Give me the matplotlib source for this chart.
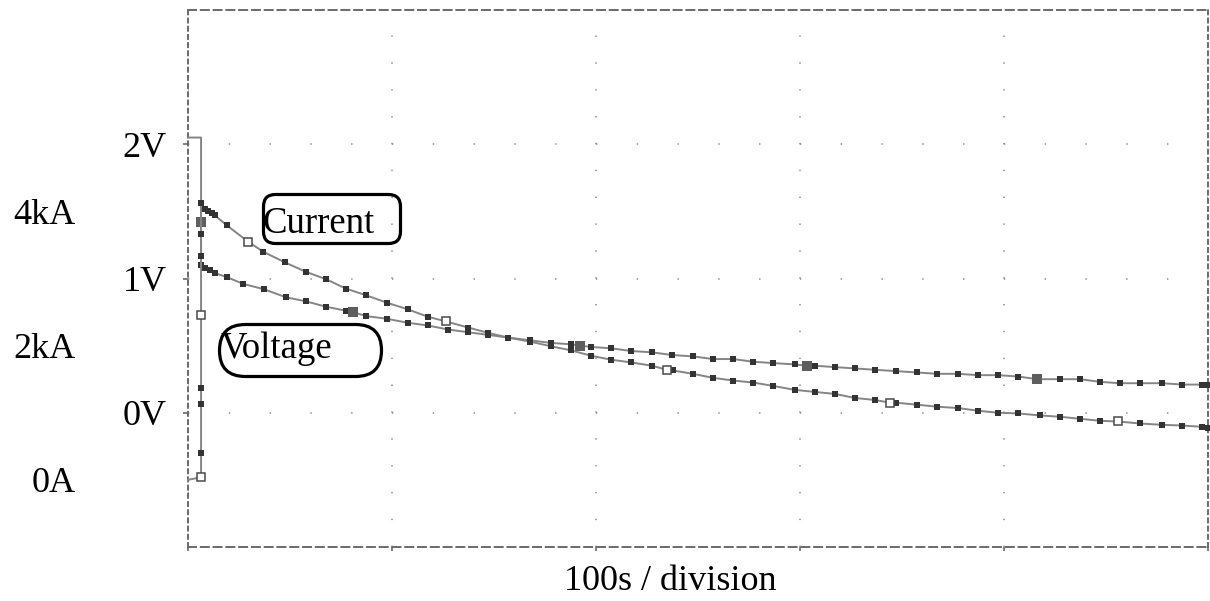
import matplotlib
matplotlib.use("Agg")
import matplotlib.pyplot as plt
from matplotlib.patches import FancyBboxPatch
from matplotlib.transforms import IdentityTransform

plt.rcParams['font.family'] = ['Liberation Serif', 'DejaVu Serif']
plt.rcParams['lines.scale_dashes'] = False

# time in seconds
t_volt = [0, 6.4, 6.4, 6.4, 8.3, 10.8, 13.2, 19.1, 27.0, 37.3, 48.0, 57.8, 67.6, 77.4, 80.9,
          87.3, 97.5, 107.8, 117.6, 127.5, 137.3, 147.1, 156.9, 167.6, 177.9, 187.7, 192.2,
          197.5, 207.4, 217.2, 227.5, 237.3, 247.5, 257.4, 267.2, 277.0, 286.8, 297.6, 303.4,
          307.4, 317.2, 327.0, 336.8, 347.1, 357.4, 367.2, 377.5, 387.3, 397.1, 406.9, 416.2,
          427.5, 437.3, 447.1, 456.9, 466.7, 477.5, 487.3, 497.1, 500]
volts = [2.05, 2.05, 1.42, 1.10, 1.08, 1.06, 1.04, 1.01, 0.96, 0.92, 0.86, 0.83, 0.79, 0.76, 0.75,
         0.72, 0.70, 0.67, 0.65, 0.62, 0.60, 0.58, 0.56, 0.54, 0.52, 0.51, 0.50,
         0.49, 0.48, 0.46, 0.45, 0.43, 0.42, 0.40, 0.40, 0.38, 0.37, 0.36, 0.35,
         0.35, 0.34, 0.33, 0.32, 0.31, 0.30, 0.29, 0.29, 0.28, 0.28, 0.27, 0.25,
         0.25, 0.25, 0.23, 0.22, 0.22, 0.22, 0.21, 0.21, 0.21]
volt_symbols = [2, 14, 26, 38, 50]

t_amp = [0, 6.4, 6.4, 6.4, 6.4, 6.4, 6.4, 6.4, 6.4, 8.3, 9.8, 11.8, 13.2, 19.1, 29.4, 36.8,
         47.5, 57.8, 67.6, 77.4, 87.3, 97.5, 107.8, 117.6, 126.5, 137.3, 147.1, 156.9, 167.6,
         177.9, 187.7, 197.5, 207.4, 217.2, 227.5, 234.8, 237.7, 247.5, 257.4, 267.2, 277.0,
         286.8, 297.6, 307.4, 317.2, 327.0, 336.8, 344.1, 347.1, 357.4, 367.2, 377.5, 387.3,
         397.1, 406.9, 417.6, 427.5, 437.3, 447.1, 455.9, 466.7, 477.5, 487.3, 497.1, 500]
kamps = [0, 0.04, 0.40, 1.13, 1.37, 2.46, 3.33, 3.66, 4.12, 4.04, 4.00, 3.97, 3.94, 3.79, 3.55, 3.40,
         3.24, 3.10, 2.99, 2.85, 2.75, 2.64, 2.54, 2.43, 2.36, 2.27, 2.19, 2.12, 2.06,
         1.99, 1.93, 1.85, 1.79, 1.75, 1.70, 1.64, 1.63, 1.58, 1.52, 1.48, 1.45,
         1.40, 1.34, 1.31, 1.28, 1.22, 1.19, 1.15, 1.15, 1.12, 1.09, 1.07, 1.03,
         1.00, 0.99, 0.96, 0.94, 0.91, 0.88, 0.87, 0.84, 0.82, 0.81, 0.79, 0.78]
amp_symbols = [1, 5, 14, 24, 35, 47, 59]

volt_ticks = [0, 1, 2]
volt_labels = ['0V', '1V', '2V']
amp_ticks = [0, 2, 4]
amp_labels = ['0A', '2kA', '4kA']
time_ticks = [0, 100, 200, 300, 400, 500]

line_c = '#858585'
dot_c = '#333333'
frame_c = '#6a6a6a'

fig = plt.figure(figsize=(12.1, 6.01), dpi=100)
ax = fig.add_axes([188/1210, 54/601, 1020/1210, 537/601])
ax.set_xlim(0, 500)
ax.set_ylim(-1, 3)

# dotted grid
ax.set_axisbelow(True)
ax.xaxis.grid(True, color='#8a8a8a', lw=1.1, linestyle=(0, (1.0, 18.33)))
ax.yaxis.grid(True, color='#8a8a8a', lw=1.1, linestyle=(0, (1.0, 28.37)))

for side in ['top', 'bottom']:
    ax.spines[side].set_linestyle((0, (5.8, 3.4)))
for side in ['left', 'right']:
    ax.spines[side].set_linestyle((0, (2.9, 3.0)))
for side in ax.spines:
    ax.spines[side].set_color(frame_c)
    ax.spines[side].set_linewidth(1.4)

ax.set_xticks(time_ticks)
ax.set_xticklabels([])
ax.tick_params(axis='x', length=3, width=1.2, color=frame_c, direction='out')
ax.set_yticks(volt_ticks)
ax.set_yticklabels(volt_labels)
ax.tick_params(axis='y', length=3.5, width=1.2, color=frame_c, pad=12, labelsize=26)

# current on its own scale, labels also at the left
ax2 = ax.twinx()
ax2.set_ylim(-1, 7)
ax2.set_yticks(amp_ticks)
ax2.set_yticklabels(amp_labels)
ax2.yaxis.set_ticks_position('left')
ax2.tick_params(axis='y', length=0, pad=81, labelsize=26)
for side in ax2.spines:
    ax2.spines[side].set_visible(False)

# voltage trace
ax.plot(t_volt, volts, color=line_c, lw=1.4, zorder=3, clip_on=False)
small_v = [i for i in range(len(t_volt)) if i not in volt_symbols and i > 1]
ax.plot([t_volt[i] for i in small_v], [volts[i] for i in small_v], ls='none', marker='s',
        ms=4.0, color=dot_c, mew=0, zorder=4, clip_on=False)
ax.plot([t_volt[i] for i in volt_symbols], [volts[i] for i in volt_symbols], ls='none', marker='s',
        ms=6.5, color='#5e5e5e', mew=0, zorder=5)

# current trace
ax2.plot(t_amp, kamps, color=line_c, lw=1.4, zorder=3, clip_on=False)
small_a = [i for i in range(len(t_amp)) if i not in amp_symbols and i > 1]
ax2.plot([t_amp[i] for i in small_a], [kamps[i] for i in small_a], ls='none', marker='s',
         ms=4.0, color=dot_c, mew=0, zorder=4, clip_on=False)
ax2.plot([t_amp[i] for i in amp_symbols], [kamps[i] for i in amp_symbols], ls='none', marker='s',
         ms=6, mfc='white', mec='#4a4a4a', mew=1.1, zorder=5)

# trace labels in rounded boxes (pixel positions)
fig.text(262/1210, 1 - 233/601, 'Current', fontsize=26.5, ha='left', va='baseline')
fig.text(221/1210, 1 - 358/601, 'Voltage', fontsize=26.5, ha='left', va='baseline')
fig.add_artist(FancyBboxPatch((263.5, 357.5), 137, 49, boxstyle='round,pad=0,rounding_size=12',
                              transform=IdentityTransform(), fc='none', ec='black', lw=2.3))
fig.add_artist(FancyBboxPatch((219.5, 224.5), 162, 52, boxstyle='round,pad=0,rounding_size=26',
                              transform=IdentityTransform(), fc='none', ec='black', lw=2.3))

fig.text(670/1210, 1 - 590/601, '100s / division', fontsize=26, ha='center', va='baseline')

fig.savefig('out.png', dpi=100)
